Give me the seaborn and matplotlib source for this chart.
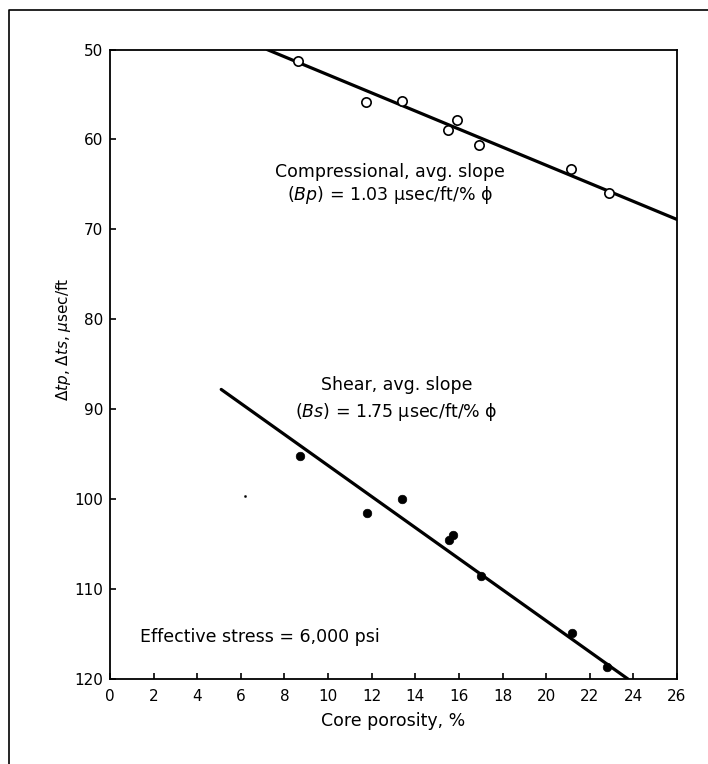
import matplotlib
matplotlib.use("Agg")
import matplotlib.pyplot as plt
import seaborn as sns
import pandas as pd
from matplotlib.lines import Line2D

# ---- data ----
comp_x = [8.6, 11.75, 13.4, 15.9, 15.5, 16.9, 21.15, 22.9]
comp_y = [51.3, 55.8, 55.7, 57.8, 58.9, 60.6, 63.3, 66.0]

shear_x = [8.7, 11.8, 13.4, 15.55, 15.75, 17.0, 21.2, 22.8]
shear_y = [95.2, 101.5, 100.0, 104.5, 104.0, 108.6, 114.9, 118.7]

speck_x = [6.2]
speck_y = [99.6]

comp_line_x = [7.2, 26.0]
comp_line_y = [50.0, 68.9]
shear_line_x = [5.1, 23.75]
shear_line_y = [87.8, 120.0]

x_ticks = list(range(0, 27, 2))
y_ticks = list(range(50, 121, 10))

sns.set_theme(style="ticks")
plt.rcParams["font.family"] = ["DejaVu Sans"]
plt.rcParams["mathtext.fontset"] = "dejavusans"
plt.rcParams["text.color"] = "black"
plt.rcParams["axes.labelcolor"] = "black"

fig = plt.figure(figsize=(7.08, 7.64), dpi=100)
fig.patch.set_facecolor("white")
ax = fig.add_axes([110 / 708, 1 - 679 / 764, 567 / 708, (679 - 49.5) / 764])

comp_df = pd.DataFrame({"x": comp_x, "y": comp_y})
shear_df = pd.DataFrame({"x": shear_x, "y": shear_y})

sns.lineplot(x=comp_line_x, y=comp_line_y, ax=ax, color="black", lw=2.3)
sns.lineplot(x=shear_line_x, y=shear_line_y, ax=ax, color="black", lw=2.3)
sns.scatterplot(data=comp_df, x="x", y="y", ax=ax, marker="o", s=45,
                facecolor="white", edgecolor="black", linewidth=1.2, zorder=3)
sns.scatterplot(data=shear_df, x="x", y="y", ax=ax, marker="o", s=38,
                color="black", edgecolor="black", zorder=3)
sns.scatterplot(x=speck_x, y=speck_y, ax=ax, marker="o", s=3, color="black",
                edgecolor="black", zorder=3)

ax.set_xlim(0, 26)
ax.set_ylim(120, 50)
ax.set_xticks(x_ticks)
ax.set_yticks(y_ticks)
ax.tick_params(axis="both", direction="in", length=4, width=1.2, labelsize=11,
               colors="black")
ax.tick_params(axis="x", pad=7)
ax.tick_params(axis="y", pad=5)
for s in ax.spines.values():
    s.set_linewidth(1.3)
    s.set_color("black")

ax.set_xlabel("Core porosity, %", fontsize=12.5, labelpad=6, color="black")
ax.set_ylabel(r"$\Delta tp$, $\Delta ts$, $\mu$sec/ft", fontsize=11, color="black")
ax.yaxis.set_label_coords(-0.066, 0.54)

txt = dict(fontsize=12.5, color="black", ha="center", va="center")
ax.text(12.85, 63.6, "Compressional, avg. slope", **txt)
ax.text(12.85, 66.2, r"($Bp$) = 1.03 μsec/ft/% ϕ", **txt)
ax.text(13.14, 87.3, "Shear, avg. slope", **txt)
ax.text(13.14, 90.3, r"($Bs$) = 1.75 μsec/ft/% ϕ", **txt)
ax.text(1.38, 115.35, "Effective stress = 6,000 psi", fontsize=12.5,
        color="black", ha="left", va="center")

# outer frame of the scanned figure
fig.add_artist(Line2D([9 / 708, 9 / 708, 1.0], [0.0, 1 - 10 / 764, 1 - 10 / 764],
                      transform=fig.transFigure, color="black", lw=1.2))

fig.savefig("out.png", dpi=100, facecolor="white")
